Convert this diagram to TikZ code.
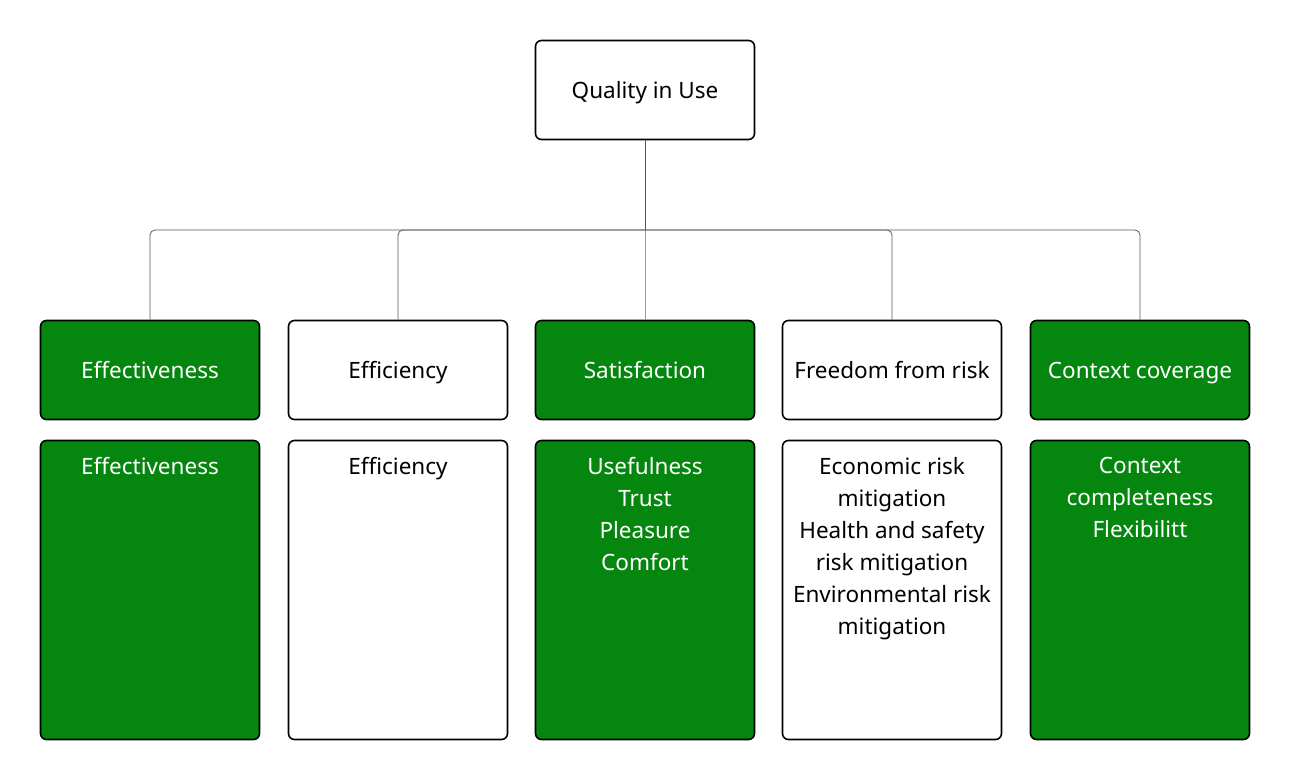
\documentclass[tikz,border=0pt]{standalone}
\usepackage{fontspec}
\setmainfont{Noto Sans}
\usepackage{tikz}
\definecolor{isogreen}{RGB}{5,135,15}
\definecolor{wire}{RGB}{85,88,95}

\begin{document}
\begin{tikzpicture}[x=1pt, y=-1pt,
	box/.style={draw=black, line width=1.6pt, rounded corners=6pt, minimum width=219pt, inner sep=0pt, text height=19pt, text depth=2pt, font=\fontsize{22.5}{32}\selectfont},
	head/.style={box, minimum height=99pt},
	detail/.style={box, minimum height=299pt},
	green/.style={fill=isogreen, text=white},
	white/.style={fill=white, text=black},
	items/.style={anchor=north, inner sep=0pt, align=center, font=\fontsize{22.5}{32}\selectfont}]

	\useasboundingbox (0,0) rectangle (1290,780);

	\node[head, white] (quality) at (645,90) {Quality in Use};

	\node[head, green] (effectiveness) at (150,370) {Effectiveness};
	\node[head, white] (efficiency) at (398,370) {Efficiency};
	\node[head, green] (satisfaction) at (645,370) {Satisfaction};
	\node[head, white] (freedom) at (892,370) {Freedom from risk};
	\node[head, green] (context) at (1140,370) {Context coverage};

	\node[detail, green] (effectivenessd) at (150,590) {};
	\node[detail, white] (efficiencyd) at (398,590) {};
	\node[detail, green] (satisfactiond) at (645,590) {};
	\node[detail, white] (freedomd) at (892,590) {};
	\node[detail, green] (contextd) at (1140,590) {};

	\node[items, text=white] (effectivenesst) at ([yshift=-17pt]effectivenessd.north) {Effectiveness};
	\node[items] (efficiencyt) at ([yshift=-17pt]efficiencyd.north) {Efficiency};
	\node[items, text=white] (satisfactiont) at ([yshift=-17pt]satisfactiond.north) {Usefulness\\Trust\\Pleasure\\Comfort};
	\node[items] (freedomt) at ([yshift=-17pt]freedomd.north) {Economic risk\\mitigation\\Health and safety\\risk mitigation\\Environmental risk\\mitigation};
	\node[items, text=white] (contextt) at ([yshift=-17pt]contextd.north) {Context\\completeness\\Flexibilitt};

	\coordinate (bus) at (645,230);

	\draw[wire, line width=1pt] (quality.south) -- (bus);
	\draw[wire!60, line width=0.8pt] (satisfaction.north) -- (bus);
	\foreach \h in {effectiveness, efficiency, freedom, context}
		\draw[wire, line width=0.8pt, rounded corners=5pt] (\h.north) |- (bus);

\end{tikzpicture}
\end{document}
